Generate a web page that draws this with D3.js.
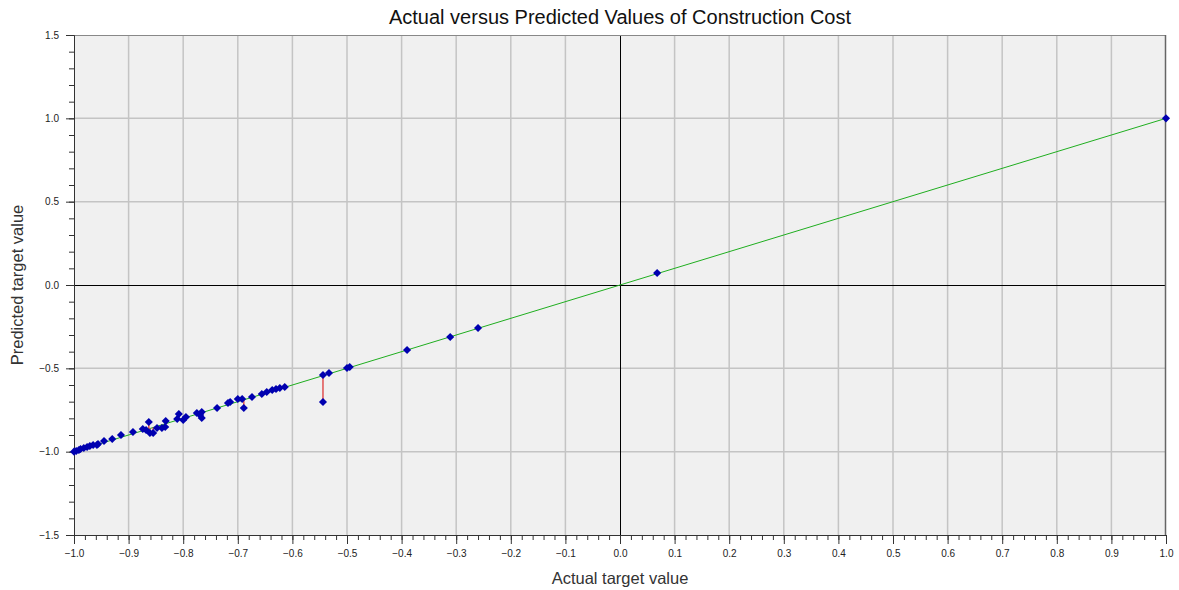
<!DOCTYPE html>
<html><head><meta charset="utf-8">
<script src="https://cdn.jsdelivr.net/npm/d3@7"></script>
<style>body{margin:0;background:#fff;} svg{display:block;font-family:"Liberation Sans",Arial,sans-serif;}</style>
</head><body>
<script>
const titleText = "Actual versus Predicted Values of Construction Cost";
const xLabel = "Actual target value";
const yLabel = "Predicted target value";
const xTicks = [-1.0,-0.9,-0.8,-0.7,-0.6,-0.5,-0.4,-0.3,-0.2,-0.1,0,0.1,0.2,0.3,0.4,0.5,0.6,0.7,0.8,0.9,1.0];
const yTicks = [-1.5,-1.0,-0.5,0,0.5,1.0,1.5];
const actual = [-1.0,-0.996,-0.991,-0.988,-0.982,-0.976,-0.971,-0.965,-0.958,-0.956,-0.945,-0.930,-0.914,-0.892,-0.874,-0.868,-0.863,-0.861,-0.855,-0.848,-0.839,-0.833,-0.832,-0.811,-0.808,-0.800,-0.795,-0.775,-0.766,-0.769,-0.766,-0.738,-0.718,-0.714,-0.700,-0.692,-0.689,-0.674,-0.656,-0.647,-0.637,-0.630,-0.623,-0.614,-0.544,-0.544,-0.533,-0.500,-0.495,-0.390,-0.311,-0.260,0.068,1.0];
const predicted = [-1.0,-0.996,-0.990,-0.984,-0.978,-0.972,-0.966,-0.960,-0.960,-0.954,-0.936,-0.924,-0.900,-0.882,-0.864,-0.870,-0.822,-0.888,-0.888,-0.858,-0.858,-0.852,-0.816,-0.804,-0.774,-0.810,-0.792,-0.768,-0.762,-0.780,-0.798,-0.738,-0.708,-0.702,-0.684,-0.684,-0.738,-0.672,-0.654,-0.642,-0.630,-0.624,-0.618,-0.612,-0.540,-0.702,-0.528,-0.498,-0.492,-0.390,-0.312,-0.258,0.072,1.0];

const W = 1179, H = 590;
const L = 74, R = 1166, T = 35, B = 535;
const svg = d3.select("body").append("svg").attr("width", W).attr("height", H);
const x = d3.scaleLinear().domain([-1, 1]).range([L, R]);
const y = d3.scaleLinear().domain([-1.5, 1.5]).range([B, T]);

svg.append("rect").attr("x", L).attr("y", T).attr("width", R - L).attr("height", B - T).attr("fill", "#f0f0f0");

// grid
svg.append("g").selectAll("line").data(xTicks.filter(d => d !== 0 && d > -1 && d < 1)).join("line")
  .attr("x1", d => x(d)).attr("x2", d => x(d)).attr("y1", T).attr("y2", B)
  .attr("stroke", "#c4c4c4").attr("stroke-width", 1.5);
svg.append("g").selectAll("line").data(yTicks.filter(d => d !== 0 && d > -1.5 && d < 1.5)).join("line")
  .attr("x1", L).attr("x2", R).attr("y1", d => y(d)).attr("y2", d => y(d))
  .attr("stroke", "#c4c4c4").attr("stroke-width", 1.5);
// zero lines
svg.append("line").attr("x1", Math.round(x(0)) + 0.5).attr("x2", Math.round(x(0)) + 0.5).attr("y1", T).attr("y2", B).attr("stroke", "#000").attr("stroke-width", 1);
svg.append("line").attr("x1", L).attr("x2", R).attr("y1", Math.round(y(0)) + 0.5).attr("y2", Math.round(y(0)) + 0.5).attr("stroke", "#000").attr("stroke-width", 1);

// border top/right
svg.append("line").attr("x1", L).attr("x2", R).attr("y1", T + 0.5).attr("y2", T + 0.5).attr("stroke", "#888");
svg.append("line").attr("x1", R - 0.5).attr("x2", R - 0.5).attr("y1", T).attr("y2", B).attr("stroke", "#666").attr("stroke-width", 1.5);

// axes
const xMinor = d3.range(-100, 101, 2).map(d => d / 100);
const yMinor = d3.range(-15, 16, 1).map(d => d / 10);
const ax = svg.append("g").attr("transform", `translate(0,${B})`);
ax.append("g").call(d3.axisBottom(x).tickValues(xMinor).tickSize(5).tickFormat(""))
  .call(g => g.select(".domain").remove()).selectAll("line").attr("stroke", "#333");
ax.append("g").call(d3.axisBottom(x).tickValues(xTicks).tickSize(9).tickPadding(6).tickFormat(d3.format(".1f")))
  .call(g => g.select(".domain").attr("stroke", "#333"))
  .call(g => g.selectAll("line").attr("stroke", "#333"))
  .call(g => g.selectAll("text").attr("font-size", 10).attr("fill", "#222").attr("font-family", "Liberation Sans, Arial, sans-serif"));
const ay = svg.append("g").attr("transform", `translate(${L},0)`);
ay.append("g").call(d3.axisLeft(y).tickValues(yMinor).tickSize(5).tickFormat(""))
  .call(g => g.select(".domain").remove()).selectAll("line").attr("stroke", "#333");
ay.append("g").call(d3.axisLeft(y).tickValues(yTicks).tickSize(8).tickPadding(7).tickFormat(d3.format(".1f")))
  .call(g => g.select(".domain").attr("stroke", "#333"))
  .call(g => g.selectAll("line").attr("stroke", "#333"))
  .call(g => g.selectAll("text").attr("font-size", 10).attr("fill", "#222").attr("font-family", "Liberation Sans, Arial, sans-serif"));

// ideal line
svg.append("line").attr("x1", x(-1)).attr("y1", y(-1)).attr("x2", x(1)).attr("y2", y(1))
  .attr("stroke", "#1fae1f").attr("stroke-width", 1);

const pts = actual.map((a, i) => ({a, p: predicted[i]}));
// residuals
svg.append("g").selectAll("line").data(pts).join("line")
  .attr("x1", d => x(d.a)).attr("x2", d => x(d.a)).attr("y1", d => y(d.a)).attr("y2", d => y(d.p))
  .attr("stroke", "#e05050").attr("stroke-width", 1.5);
// points (square rotated 45° for an even diamond)
const sym = d3.symbol().type(d3.symbolSquare).size(33);
svg.append("g").selectAll("path").data(pts).join("path")
  .attr("d", sym).attr("transform", d => `translate(${x(d.a)},${y(d.p)}) rotate(45)`)
  .attr("fill", "#0000b0");

// titles
svg.append("text").attr("x", 620).attr("y", 24).attr("text-anchor", "middle").attr("font-size", 20).attr("fill", "#111").text(titleText);
svg.append("text").attr("x", 620).attr("y", 584).attr("text-anchor", "middle").attr("font-size", 16.5).attr("fill", "#333").text(xLabel);
svg.append("text").attr("transform", "translate(23,285) rotate(-90)").attr("text-anchor", "middle").attr("font-size", 16.5).attr("fill", "#333").text(yLabel);
</script>
</body></html>
